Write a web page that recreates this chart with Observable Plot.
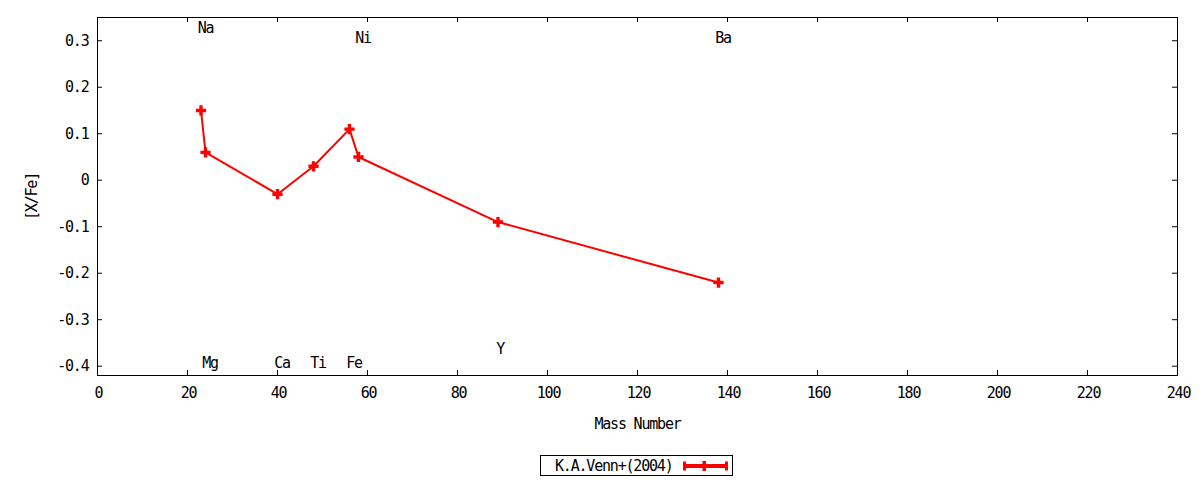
<!DOCTYPE html>
<html>
<head>
<meta charset="utf-8">
<script src="https://cdn.jsdelivr.net/npm/d3@7"></script>
<script src="https://cdn.jsdelivr.net/npm/@observablehq/plot@0.6"></script>
<style>
  body { margin: 0; background: #fff; font-family: "DejaVu Sans Mono", monospace; }
  #wrap { position: relative; width: 1200px; height: 480px; }
  #legend { position: absolute; left: 540px; top: 455px; width: 191px; height: 19px; border: 1px solid #000; box-sizing: content-box; }
  #legend span { position: absolute; left: 14px; top: 0px; line-height: 20px; font-size: 15px; letter-spacing: -1.2px; color: #000; white-space: nowrap; }
  #legend svg { position: absolute; left: 138px; top: 0; }
</style>
</head>
<body>
<div id="wrap">
  <div id="chart"></div>
  <div id="legend"><span>K.A.Venn+(2004)</span>
    <svg width="50" height="20">
      <line x1="5" y1="10" x2="48" y2="10" stroke="#ff0000" stroke-width="4"/>
      <line x1="5.5" y1="5.5" x2="5.5" y2="14.5" stroke="#ff0000" stroke-width="3"/>
      <line x1="47.5" y1="5.5" x2="47.5" y2="14.5" stroke="#ff0000" stroke-width="3"/>
      <rect x="23.5" y="5" width="3.5" height="10" fill="#ff0000"/>
    </svg>
  </div>
</div>
<script>
// Data: elements, mass numbers, [X/Fe]
const elements = ["Na", "Mg", "Ca", "Ti", "Fe", "Ni", "Y", "Ba"];
const massNumber = [23, 24, 40, 48, 56, 58, 89, 138];
const xFe = [0.15, 0.06, -0.03, 0.03, 0.11, 0.05, -0.09, -0.22];

// Element label positions (as placed in the original figure)
const labelX = [24, 25, 41, 49, 57, 59, 89.5, 139];
const labelY = [0.327, -0.394, -0.394, -0.394, -0.394, 0.306, -0.364, 0.306];

// Axis ticks
const xTicks = [0, 20, 40, 60, 80, 100, 120, 140, 160, 180, 200, 220, 240];
const yTicks = [-0.4, -0.3, -0.2, -0.1, 0, 0.1, 0.2, 0.3];

const points = massNumber.map((m, i) => ({el: elements[i], mass: m, v: xFe[i]}));
const labels = elements.map((e, i) => ({el: e, x: labelX[i], y: labelY[i]}));

const W = 1200, H = 440, mL = 97, mR = 23, mT = 17, mB = 65;
const fw = W - mL - mR, fh = H - mT - mB, tl = 5;
const font = "DejaVu Sans Mono";
const fmt = d => String(+d.toFixed(1)).replace("\u2212", "-");

const chart = Plot.plot({
  width: W, height: H,
  marginLeft: mL, marginRight: mR, marginTop: mT, marginBottom: mB,
  style: {fontFamily: font, fontSize: "15px", letterSpacing: "-1.2px", background: "#fff", color: "#000"},
  x: {domain: [0, 240]},
  y: {domain: [-0.42, 0.35]},
  marks: [
    Plot.frame({stroke: "#000", strokeWidth: 1}),
    Plot.tickX(xTicks, {x: d => d, insetTop: fh - tl, stroke: "#000"}),
    Plot.tickX(xTicks, {x: d => d, insetBottom: fh - tl, stroke: "#000"}),
    Plot.tickY(yTicks, {y: d => d, insetRight: fw - tl, stroke: "#000"}),
    Plot.tickY(yTicks, {y: d => d, insetLeft: fw - tl, stroke: "#000"}),
    Plot.axisX(xTicks, {tickSize: 0, tickPadding: 12, tickFormat: d => String(d), fontSize: 15, label: null, dx: 1}),
    Plot.axisY(yTicks, {tickSize: 0, tickPadding: 9, tickFormat: fmt, fontSize: 15, label: null}),
    Plot.text(["Mass Number"], {frameAnchor: "bottom", lineAnchor: "middle", textAnchor: "middle", dy: 49, text: d => d, fontSize: 15}),
    Plot.text(["[X/Fe]"], {frameAnchor: "left", lineAnchor: "middle", textAnchor: "middle", dx: -65, rotate: -90, text: d => d, fontSize: 15}),
    Plot.line(points, {x: "mass", y: "v", stroke: "#ff0000", strokeWidth: 2}),
    Plot.dot(points, {x: "mass", y: "v", symbol: "cross", r: 4.3, fill: "#ff0000", stroke: "none"}),
    Plot.text(labels, {x: "x", y: "y", text: "el", fontSize: 15, fill: "#000"})
  ]
});
document.getElementById("chart").appendChild(chart);
</script>
</body>
</html>
